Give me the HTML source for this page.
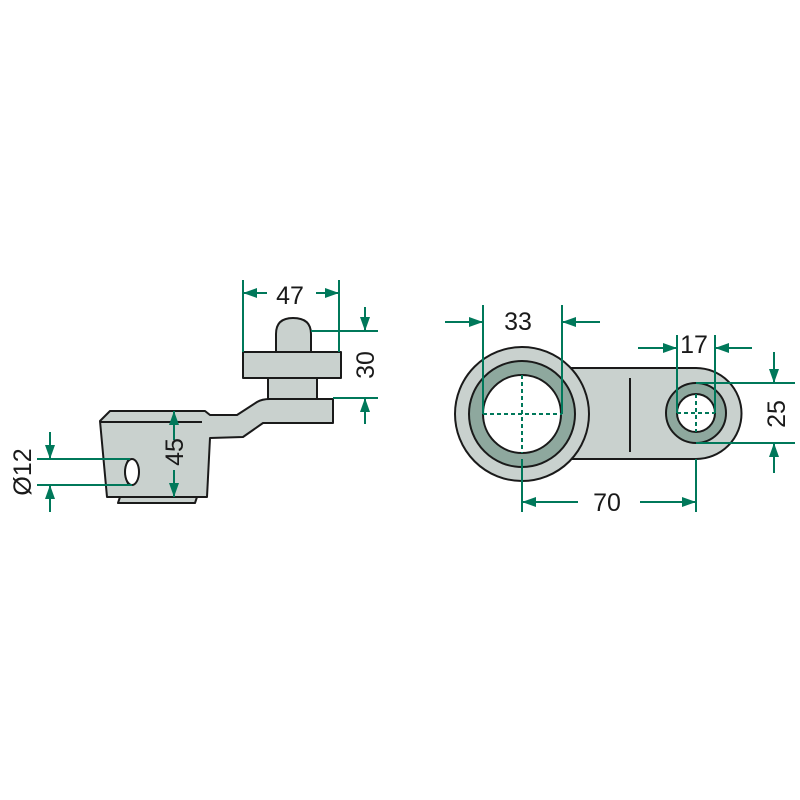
<!DOCTYPE html>
<html><head><meta charset="utf-8"><style>
html,body{margin:0;padding:0;background:#fff;}
svg{display:block}
text{font-family:"Liberation Sans",sans-serif;font-size:25px;fill:#1a1a1a}
</style></head><body>
<svg width="800" height="800" viewBox="0 0 800 800" xmlns="http://www.w3.org/2000/svg">
<defs>
<marker id="ar" viewBox="0 0 14 10" refX="14" refY="5" markerWidth="14" markerHeight="10" markerUnits="userSpaceOnUse" orient="auto">
<path d="M0,0 L14,5 L0,10 z" fill="#00785a"/></marker>
</defs>
<g stroke="#1a1a1a" stroke-width="2" fill="#c9d1ce" stroke-linejoin="round">
<path d="M118,503 L195,503 L197,497 L120,497 Z"/>
<path d="M110,411 L205,411 L210,415 L237,415 L257,402 Q262,399 270,399 L333,399 L333,423 L263,423 L243,437 L210,438 L207,497 L107,497 L100,421 Z"/>
<line x1="100" y1="422" x2="202" y2="422"/>
<rect x="268" y="378" width="49" height="21"/>
<rect x="243" y="352" width="98" height="26"/>
<path d="M276,352 L276,334 Q276,318 293,318 Q311,318 311,334 L311,352 Z"/>
<ellipse cx="132" cy="472" rx="7" ry="13" fill="#fff"/>
<path d="M128,460 Q122,472 128,484" fill="none" stroke-width="1.5"/>
<path d="M560,368 L696,368 A45,45 0 0 1 696,459 L560,459 Z"/>
<circle cx="522" cy="414" r="67"/>
<circle cx="522" cy="414" r="53" fill="#8ea89e"/>
<circle cx="522" cy="414" r="39" fill="#fff"/>
<circle cx="696" cy="413" r="30" fill="#8ea89e"/>
<circle cx="696" cy="413" r="19" fill="#fff"/>
<line x1="630" y1="378" x2="630" y2="452"/>
</g>
<g stroke="#00785a" stroke-width="2" fill="none">
<g stroke-dasharray="4,3">
<line x1="483" y1="414" x2="562" y2="414"/><line x1="522" y1="375" x2="522" y2="453"/>
<line x1="677" y1="413" x2="715" y2="413"/><line x1="696" y1="394" x2="696" y2="432"/>
</g>
<line x1="243" y1="280" x2="243" y2="352"/><line x1="339" y1="280" x2="339" y2="352"/>
<line x1="267" y1="293" x2="243" y2="293" marker-end="url(#ar)"/>
<line x1="316" y1="293" x2="339" y2="293" marker-end="url(#ar)"/>
<line x1="311" y1="331" x2="378" y2="331"/><line x1="333" y1="398" x2="378" y2="398"/>
<line x1="365" y1="307" x2="365" y2="331" marker-end="url(#ar)"/>
<line x1="365" y1="424" x2="365" y2="398" marker-end="url(#ar)"/>
<line x1="174" y1="440" x2="174" y2="411" marker-end="url(#ar)"/>
<line x1="174" y1="470" x2="174" y2="497" marker-end="url(#ar)"/>
<line x1="37" y1="459" x2="130" y2="459"/><line x1="37" y1="485" x2="132" y2="485"/>
<line x1="50" y1="432" x2="50" y2="459" marker-end="url(#ar)"/>
<line x1="50" y1="512" x2="50" y2="485" marker-end="url(#ar)"/>
<line x1="483" y1="305" x2="483" y2="414"/><line x1="562" y1="305" x2="562" y2="414"/>
<line x1="445" y1="322" x2="483" y2="322" marker-end="url(#ar)"/>
<line x1="600" y1="322" x2="562" y2="322" marker-end="url(#ar)"/>
<line x1="677" y1="335" x2="677" y2="413"/><line x1="715" y1="335" x2="715" y2="413"/>
<line x1="638" y1="348" x2="677" y2="348" marker-end="url(#ar)"/>
<line x1="752" y1="348" x2="715" y2="348" marker-end="url(#ar)"/>
<line x1="696" y1="383" x2="795" y2="383"/><line x1="696" y1="443" x2="795" y2="443"/>
<line x1="774" y1="352" x2="774" y2="383" marker-end="url(#ar)"/>
<line x1="774" y1="473" x2="774" y2="443" marker-end="url(#ar)"/>
<line x1="522" y1="459" x2="522" y2="512"/><line x1="696" y1="459" x2="696" y2="512"/>
<line x1="578" y1="502" x2="522" y2="502" marker-end="url(#ar)"/>
<line x1="640" y1="502" x2="696" y2="502" marker-end="url(#ar)"/>
</g>
<text x="290" y="304" text-anchor="middle">47</text>
<text transform="translate(374,365) rotate(-90)" text-anchor="middle">30</text>
<text transform="translate(183,452) rotate(-90)" text-anchor="middle">45</text>
<text transform="translate(31,472) rotate(-90)" text-anchor="middle">Ø12</text>
<text x="518" y="330" text-anchor="middle">33</text>
<text x="694" y="353" text-anchor="middle">17</text>
<text transform="translate(785,414) rotate(-90)" text-anchor="middle">25</text>
<text x="607" y="511" text-anchor="middle">70</text>
</svg>
</body></html>
